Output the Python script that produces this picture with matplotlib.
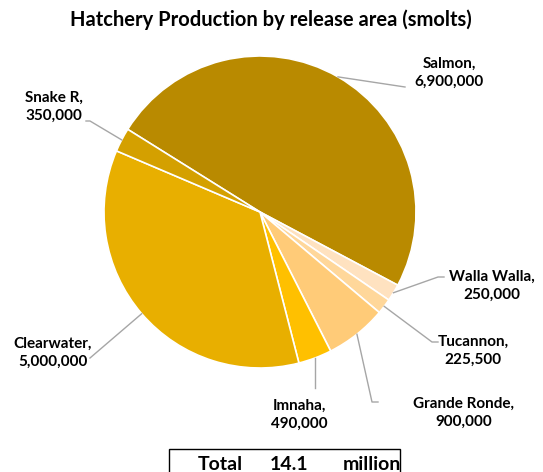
import matplotlib
matplotlib.use("Agg")
import matplotlib.pyplot as plt
import numpy as np
from matplotlib.lines import Line2D
from matplotlib.patches import Rectangle

plt.rcParams['font.family'] = ['Lato', 'DejaVu Sans']
plt.rcParams['font.weight'] = 'bold'

W, H = 543, 472

# data (smolts released)
areas = ['Salmon', 'Walla Walla', 'Tucannon', 'Grande Ronde', 'Imnaha', 'Clearwater', 'Snake R']
smolts = [6900000, 250000, 225500, 900000, 490000, 5000000, 350000]
colors = ['#B98A00', '#FFE2C0', '#FFD79A', '#FFCB78', '#FFC000', '#E8AF00', '#D4A000']
total_million = 14.1

# label placement (pixels from top-left): text centre, leader end
label_pos = {
    'Salmon':       ((449, 73),  (405, 87)),
    'Walla Walla':  ((492, 286), (438, 277)),
    'Tucannon':     ((473, 351), (432, 342)),
    'Grande Ronde': ((464, 413), (372, 402)),
    'Imnaha':       ((299, 415), (None, 388)),
    'Clearwater':   ((53, 353),  (90, 358)),
    'Snake R':      ((54, 107),  (86, 121)),
}

def fx(x):
    return x / W

def fy(y):
    return 1 - y / H

fig = plt.figure(figsize=(W / 100, H / 100), dpi=100)

cx, cy, r = 260, 212, 156
ax = fig.add_axes([fx(cx - r), fy(cy + r), 2 * r / W, 2 * r / H])
wedges, _ = ax.pie(smolts, colors=colors, startangle=148, counterclock=False,
                   radius=1, wedgeprops=dict(edgecolor='white', linewidth=1.2))
ax.set_xlim(-1, 1)
ax.set_ylim(-1, 1)
ax.set_aspect('equal')
ax.axis('off')

fig.text(fx(271), fy(20), 'Hatchery Production by release area (smolts)',
         ha='center', va='center', fontsize=14.5, fontweight='bold')

for w, name, val in zip(wedges, areas, smolts):
    mid = np.deg2rad((w.theta1 + w.theta2) / 2)
    # start of leader on the pie edge, in pixels
    sx = cx + r * np.cos(mid)
    sy = cy - r * np.sin(mid)
    (tx, ty), (ex, ey) = label_pos[name]
    if ex is None:
        ex = sx
    pts_x = [sx, ex]
    pts_y = [sy, ey]
    if name in ('Walla Walla', 'Tucannon', 'Grande Ronde'):
        pts_x.append(ex + 6)
        pts_y.append(ey)
    if name == 'Snake R':
        pts_x = [sx, ex + 4, ex]
        pts_y = [sy, ey, ey]
    fig.add_artist(Line2D([fx(p) for p in pts_x], [fy(p) for p in pts_y],
                          color='#A6A6A6', linewidth=1))
    fig.text(fx(tx), fy(ty), f'{name},\n{val:,}', ha='center', va='center',
             fontsize=11, fontweight='bold', linespacing=1.4)

# total box
fig.add_artist(Rectangle((fx(169), fy(480)), (400 - 169) / W, 31 / H,
                         transform=fig.transFigure, fill=False,
                         edgecolor='black', linewidth=1, clip_on=False))
fig.text(fx(198), fy(465), 'Total', ha='left', va='center', fontsize=14, fontweight='bold')
fig.text(fx(289), fy(465), f'{total_million}', ha='center', va='center', fontsize=14, fontweight='bold')
fig.text(fx(372), fy(465), 'million', ha='center', va='center', fontsize=14, fontweight='bold')

fig.savefig('out.png', dpi=100)
